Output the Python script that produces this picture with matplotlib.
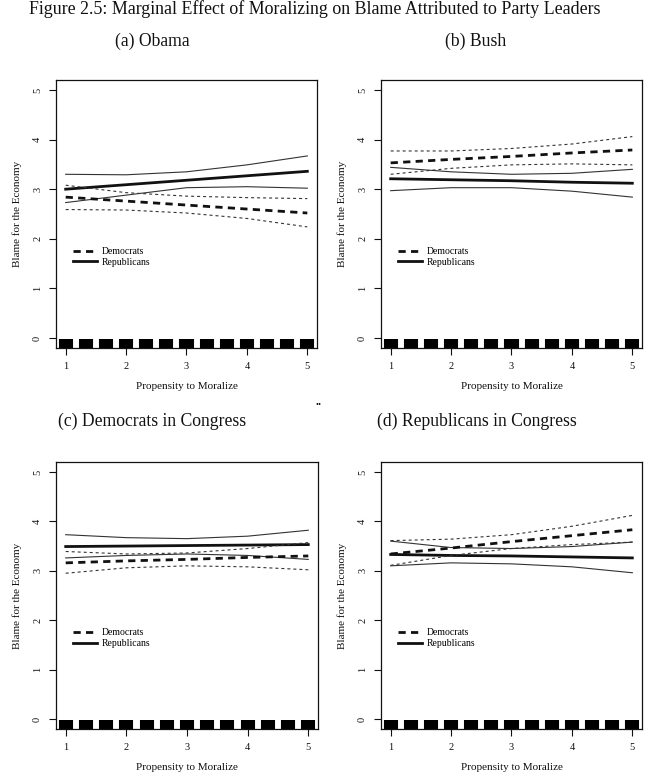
#!/usr/bin/env python3
"""Marginal effect of moralizing on blame attributed to party leaders (4 panels)."""
import matplotlib

matplotlib.use("Agg")
import matplotlib.pyplot as plt
import numpy as np

plt.rcParams["font.family"] = ["Liberation Serif", "DejaVu Serif"]

INK = "#111111"
CI = "#333333"

X = [1, 2, 3, 4, 5]

# estimate, lower, upper for each party and panel
OBAMA = {
    "dem": ([2.84, 2.76, 2.68, 2.60, 2.52], [2.59, 2.58, 2.52, 2.41, 2.24], [3.08, 2.93, 2.86, 2.83, 2.81]),
    "rep": ([3.00, 3.09, 3.18, 3.27, 3.36], [2.73, 2.88, 3.03, 3.05, 3.02], [3.30, 3.29, 3.35, 3.49, 3.67]),
}
BUSH = {
    "dem": ([3.53, 3.60, 3.66, 3.73, 3.79], [3.30, 3.42, 3.49, 3.51, 3.49], [3.77, 3.77, 3.82, 3.91, 4.06]),
    "rep": ([3.21, 3.19, 3.17, 3.14, 3.12], [2.97, 3.03, 3.03, 2.96, 2.84], [3.44, 3.35, 3.30, 3.32, 3.40]),
}
DEM_CONGRESS = {
    "dem": ([3.16, 3.20, 3.23, 3.27, 3.30], [2.95, 3.06, 3.10, 3.08, 3.02], [3.39, 3.34, 3.36, 3.45, 3.57]),
    "rep": ([3.49, 3.50, 3.51, 3.52, 3.53], [3.26, 3.31, 3.34, 3.31, 3.23], [3.73, 3.67, 3.65, 3.70, 3.82]),
}
REP_CONGRESS = {
    "dem": ([3.34, 3.46, 3.59, 3.71, 3.83], [3.11, 3.31, 3.45, 3.53, 3.58], [3.61, 3.64, 3.73, 3.90, 4.12]),
    "rep": ([3.33, 3.31, 3.30, 3.28, 3.26], [3.10, 3.16, 3.14, 3.08, 2.96], [3.60, 3.47, 3.45, 3.49, 3.58]),
}

PANELS = [
    ("(a) Obama", OBAMA),
    ("(b) Bush", BUSH),
    ("(c) Democrats in Congress", DEM_CONGRESS),
    ("(d) Republicans in Congress", REP_CONGRESS),
]

# observed moralizing scores (rug): 13 response levels, each jittered slightly
RUG_LEVELS = [1, 4 / 3, 5 / 3, 2, 7 / 3, 8 / 3, 3, 10 / 3, 11 / 3, 4, 13 / 3, 14 / 3, 5]
RUG_JITTER = [-0.10, -0.08, -0.06, -0.04, -0.02, 0.0, 0.02, 0.04, 0.06, 0.08, 0.10]

W, H = 648, 774
# axes boxes in pixels: left, top, right, bottom
BOXES = [(56, 80, 317, 348), (381, 80, 642, 348), (56, 462, 318, 729), (381, 462, 642, 729)]
SUB_POS = [(152, 41), (476, 41), (152, 421), (477, 421)]


def draw_panel(ax, data):
    est, lo, hi = data["rep"]
    ax.plot(X, lo, color=CI, lw=0.8)
    ax.plot(X, hi, color=CI, lw=0.8)
    ax.plot(X, est, color=INK, lw=2.0, label="Republicans")
    est, lo, hi = data["dem"]
    ax.plot(X, lo, color=CI, lw=0.8, ls=(0, (2.7, 2.7)))
    ax.plot(X, hi, color=CI, lw=0.8, ls=(0, (2.7, 2.7)))
    ax.plot(X, est, color=INK, lw=2.0, ls=(0, (2.6, 1.9)), label="Democrats")

    rug = [lv + j for lv in RUG_LEVELS for j in RUG_JITTER]
    ax.vlines(rug, -0.2, -0.015, color="black", lw=1.5)

    ax.set_xlim(0.84, 5.16)
    ax.set_ylim(-0.2, 5.2)
    ax.set_xticks(X)
    ax.set_yticks([0, 1, 2, 3, 4, 5])
    ax.tick_params(axis="both", length=5, width=0.8, labelsize=7.5, color=INK, labelcolor=INK, pad=5)
    for lab in ax.get_yticklabels():
        lab.set_rotation(90)
        lab.set_va("center")
    for s in ax.spines.values():
        s.set_linewidth(0.9)
        s.set_color(INK)
    ax.set_xlabel("Propensity to Moralize", fontsize=8, color=INK, labelpad=8)
    ax.set_ylabel("Blame for the Economy", fontsize=8, color=INK, labelpad=8)
    h, l = ax.get_legend_handles_labels()
    ax.legend(h[::-1], l[::-1], loc="center left", bbox_to_anchor=(0.04, 0.34),
              frameon=False, fontsize=7, handlelength=2.4, handletextpad=0.5,
              labelspacing=0.2, borderpad=0.2)


def main():
    fig = plt.figure(figsize=(W / 100, H / 100), dpi=100)
    fig.text(0.486, 1.0, "Figure 2.5: Marginal Effect of Moralizing on Blame Attributed to Party Leaders",
             ha="center", va="top", fontsize=12.9, color=INK)
    for (title, data), (l, t, r, b), (sx, sy) in zip(PANELS, BOXES, SUB_POS):
        ax = fig.add_axes([l / W, 1 - b / H, (r - l) / W, (b - t) / H])
        draw_panel(ax, data)
        fig.text(sx / W, 1 - sy / H, title, ha="center", va="center", fontsize=12.7, color=INK)
    fig.text(318 / W, 1 - 402 / H, "..", ha="center", va="center", fontsize=9, fontweight="bold", color=INK)
    fig.savefig("out.png", dpi=100, facecolor="white")
    plt.close(fig)


if __name__ == "__main__":
    main()
